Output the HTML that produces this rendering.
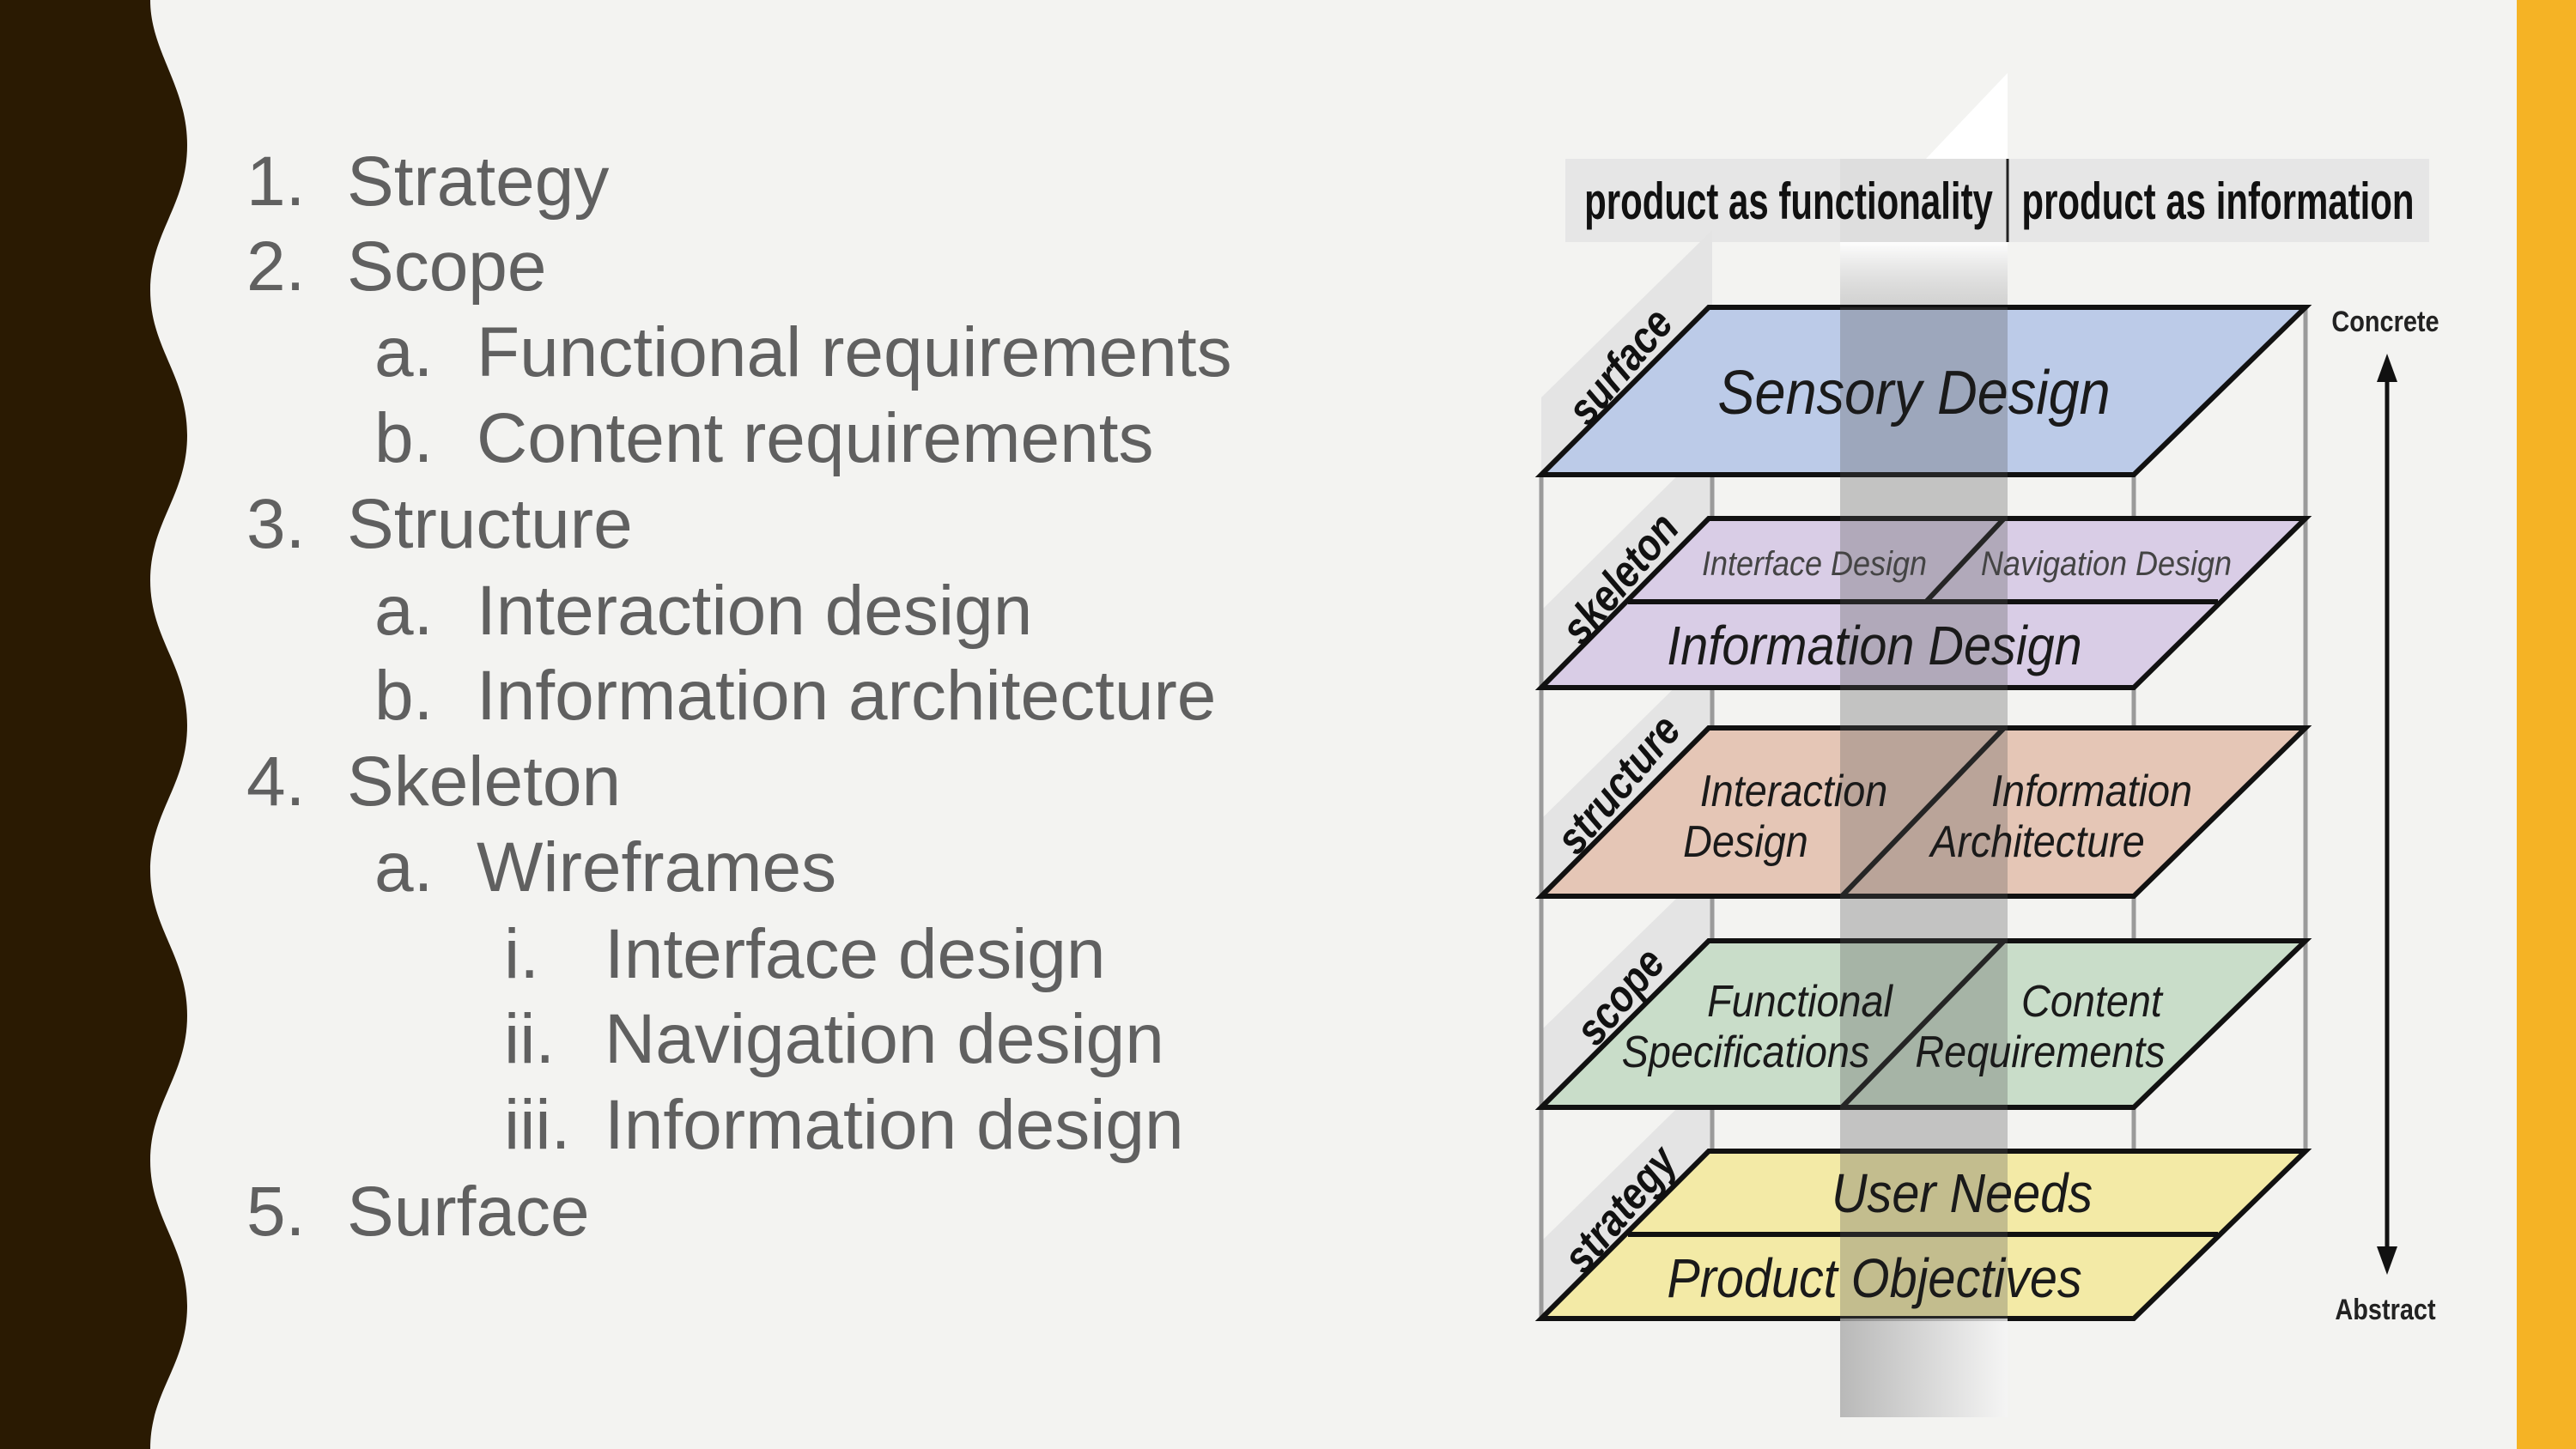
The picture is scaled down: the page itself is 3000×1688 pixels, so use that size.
<!DOCTYPE html>
<html><head><meta charset="utf-8"><style>
html,body{margin:0;padding:0;width:3000px;height:1688px;overflow:hidden;background:#f3f3f1;}
.t{position:absolute;font-family:"Liberation Sans",Arial,sans-serif;font-size:82px;color:#606060;line-height:1;white-space:nowrap;}
</style></head><body>
<svg width="3000" height="1688" style="position:absolute;left:0;top:0" xmlns="http://www.w3.org/2000/svg">
<defs>
<linearGradient id="colTop" x1="0" y1="0" x2="0" y2="1">
<stop offset="0" stop-color="#fff" stop-opacity="0.9"/><stop offset="1" stop-color="#bbb" stop-opacity="0.6"/></linearGradient>
<linearGradient id="colBot" x1="0" y1="0" x2="1" y2="0">
<stop offset="0" stop-color="#aaa"/><stop offset="1" stop-color="#f5f5f5"/></linearGradient>
</defs>
<path d="M0 0 L175 0 C175 60 218 100 218 169 C218 240 175 270 175 338 C175 406 218 437 218 507 C218 577 175 608 175 676 C175 744 218 775 218 845 C218 915 175 946 175 1014 C175 1082 218 1113 218 1183 C218 1253 175 1284 175 1352 C175 1420 218 1451 218 1521 C218 1591 175 1620 175 1688 L0 1688 Z" fill="#2a1a02"/>
<rect x="2931" y="0" width="69" height="1688" fill="#f5b325"/>

<polygon points="2243,185 2338,85 2338,185" fill="#ffffff"/>
<rect x="2143" y="282" width="195" height="76" fill="url(#colTop)"/>
<rect x="1823" y="185" width="1006" height="97" fill="#e6e6e6"/>
<rect x="2143" y="185" width="195" height="97" fill="#d8d8d8" opacity="0.6"/>
<line x1="2338" y1="185" x2="2338" y2="282" stroke="#222" stroke-width="3"/>
<text x="2083" y="255" font-family="Liberation Sans,Arial,sans-serif" font-size="60" font-weight="bold" text-anchor="middle" transform="translate(2083 0) scale(0.7 1) translate(-2083 0)" fill="#111">product as functionality</text>
<text x="2583" y="255" font-family="Liberation Sans,Arial,sans-serif" font-size="60" font-weight="bold" text-anchor="middle" transform="translate(2583 0) scale(0.7 1) translate(-2583 0)" fill="#111">product as information</text>

<g fill="#e4e4e4">
<polygon points="1795,553 1795,463 1994,268 1994,358"/>
<polygon points="1795,801 1795,711 1994,514 1994,604"/>
<polygon points="1795,1044 1795,954 1994,758 1994,848"/>
<polygon points="1795,1290 1795,1200 1994,1006 1994,1096"/>
<polygon points="1795,1536 1795,1446 1994,1251 1994,1341"/>
</g>
<g stroke="#9a9a9a" stroke-width="5">
<line x1="1795" y1="553" x2="1795" y2="1536"/>
<line x1="1994" y1="358" x2="1994" y2="1341"/>
<line x1="2485" y1="553" x2="2485" y2="1536"/>
<line x1="2685" y1="358" x2="2685" y2="1341"/>
</g>

<g stroke="#111" stroke-width="6">
<polygon points="1990,358 2685,358 2485,553 1795,553" fill="#bccbe8"/>
<polygon points="1990,604 2685,604 2485,801 1795,801" fill="#d9cde6"/>
<line x1="1896" y1="701" x2="2583" y2="701"/>
<line x1="2334" y1="604" x2="2243" y2="701"/>
<polygon points="1990,848 2685,848 2485,1044 1795,1044" fill="#e5c6b6"/>
<line x1="2334" y1="848" x2="2145" y2="1044"/>
<polygon points="1990,1096 2685,1096 2485,1290 1795,1290" fill="#c9ddc9"/>
<line x1="2334" y1="1096" x2="2145" y2="1290"/>
<polygon points="1990,1341 2685,1341 2485,1536 1795,1536" fill="#f3eaa6"/>
<line x1="1896" y1="1438" x2="2583" y2="1438"/>
</g>

<rect x="2143" y="358" width="195" height="1178" fill="#555" opacity="0.3"/>
<rect x="2143" y="1536" width="195" height="115" fill="url(#colBot)" opacity="0.8"/>

<line x1="2780" y1="440" x2="2780" y2="1460" stroke="#111" stroke-width="5"/>
<polygon points="2780,412 2768,445 2792,445" fill="#111"/>
<polygon points="2780,1485 2768,1452 2792,1452" fill="#111"/>
<g font-family="Liberation Sans,Arial,sans-serif" font-size="34" font-weight="bold" fill="#222" text-anchor="middle">
<text x="2778" y="386" transform="translate(2778 0) scale(0.85 1) translate(-2778 0)">Concrete</text>
<text x="2778" y="1537" transform="translate(2778 0) scale(0.85 1) translate(-2778 0)">Abstract</text>
</g>

<g font-family="Liberation Sans,Arial,sans-serif" font-size="52" font-style="italic" font-weight="bold" fill="#111" text-anchor="middle">
<text transform="translate(1900 438) rotate(-50) scale(0.85 1)">surface</text>
<text transform="translate(1900 685) rotate(-50) scale(0.85 1)">skeleton</text>
<text transform="translate(1898 925) rotate(-50) scale(0.85 1)">structure</text>
<text transform="translate(1900 1172) rotate(-50) scale(0.85 1)">scope</text>
<text transform="translate(1900 1420) rotate(-50) scale(0.85 1)">strategy</text>
</g>

<g font-family="Liberation Sans,Arial,sans-serif" font-style="italic" fill="#1a1a1a" text-anchor="middle">
<text transform="translate(2229 482) scale(0.9 1)" font-size="72">Sensory Design</text>
<text transform="translate(2113 670) scale(0.9 1)" font-size="40" fill="#444">Interface Design</text>
<text transform="translate(2453 670) scale(0.9 1)" font-size="40" fill="#444">Navigation Design</text>
<text transform="translate(2183 774) scale(0.9 1)" font-size="64">Information Design</text>
<text transform="translate(2089 939) scale(0.9 1)" font-size="52">Interaction</text>
<text transform="translate(2033 998) scale(0.9 1)" font-size="52">Design</text>
<text transform="translate(2436 939) scale(0.9 1)" font-size="52">Information</text>
<text transform="translate(2373 998) scale(0.9 1)" font-size="52">Architecture</text>
<text transform="translate(2096 1184) scale(0.9 1)" font-size="52">Functional</text>
<text transform="translate(2033 1243) scale(0.9 1)" font-size="52">Specifications</text>
<text transform="translate(2436 1184) scale(0.9 1)" font-size="52">Content</text>
<text transform="translate(2376 1243) scale(0.9 1)" font-size="52">Requirements</text>
<text transform="translate(2285 1412) scale(0.9 1)" font-size="64">User Needs</text>
<text transform="translate(2183 1511) scale(0.9 1)" font-size="64">Product Objectives</text>
</g>
</svg>

<div class="t" style="left:287px;top:171px">1.</div><div class="t" style="left:404px;top:171px">Strategy</div>
<div class="t" style="left:287px;top:270px">2.</div><div class="t" style="left:404px;top:270px">Scope</div>
<div class="t" style="left:436px;top:370px">a.</div><div class="t" style="left:555px;top:370px">Functional requirements</div>
<div class="t" style="left:436px;top:470px">b.</div><div class="t" style="left:555px;top:470px">Content requirements</div>
<div class="t" style="left:287px;top:570px">3.</div><div class="t" style="left:404px;top:570px">Structure</div>
<div class="t" style="left:436px;top:671px">a.</div><div class="t" style="left:555px;top:671px">Interaction design</div>
<div class="t" style="left:436px;top:770px">b.</div><div class="t" style="left:555px;top:770px">Information architecture</div>
<div class="t" style="left:287px;top:870px">4.</div><div class="t" style="left:404px;top:870px">Skeleton</div>
<div class="t" style="left:436px;top:970px">a.</div><div class="t" style="left:555px;top:970px">Wireframes</div>
<div class="t" style="left:587px;top:1071px">i.</div><div class="t" style="left:704px;top:1071px">Interface design</div>
<div class="t" style="left:587px;top:1170px">ii.</div><div class="t" style="left:704px;top:1170px">Navigation design</div>
<div class="t" style="left:587px;top:1270px">iii.</div><div class="t" style="left:704px;top:1270px">Information design</div>
<div class="t" style="left:287px;top:1371px">5.</div><div class="t" style="left:404px;top:1371px">Surface</div>
</body></html>
